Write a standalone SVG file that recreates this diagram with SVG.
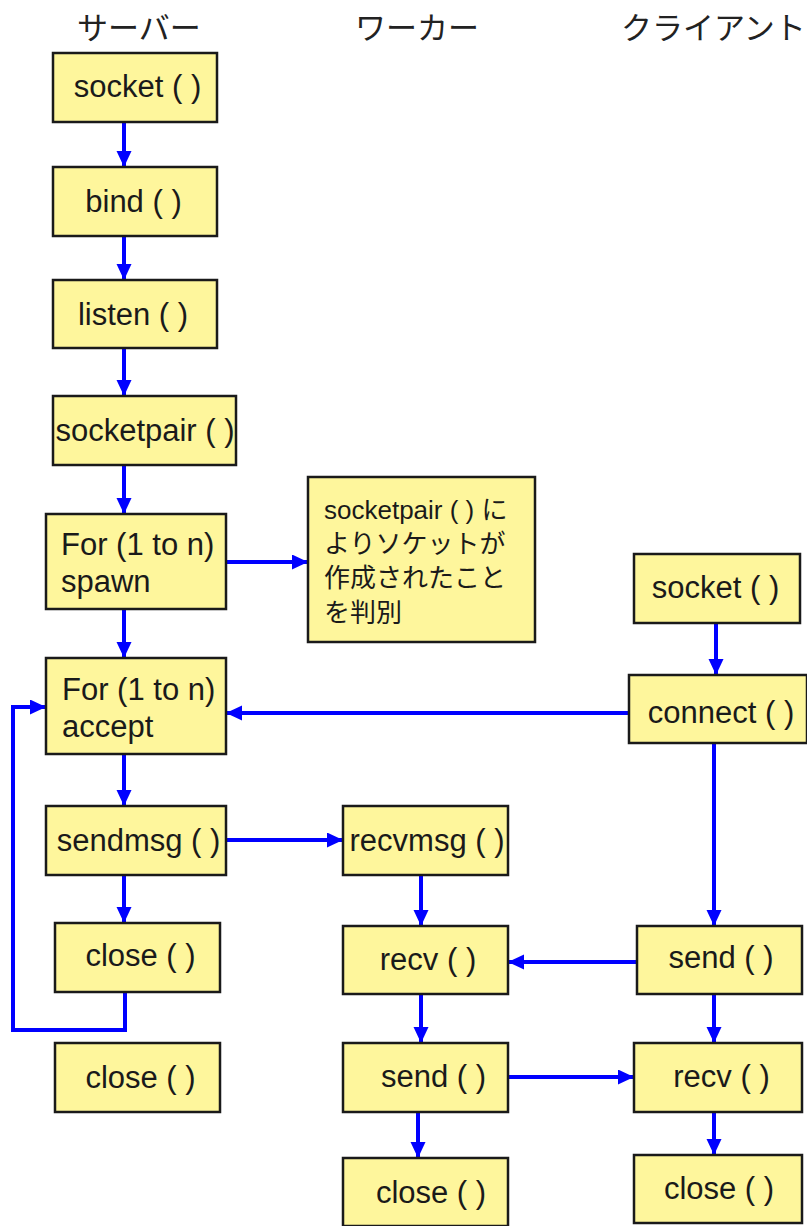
<svg xmlns="http://www.w3.org/2000/svg" width="807" height="1226" viewBox="0 0 807 1226">
<style>
.box{fill:#fef69c;stroke:#1a1a1a;stroke-width:2.5}
.t{font-family:"Liberation Sans",Arial,sans-serif;font-size:31px;fill:#1a1a1a;text-anchor:middle}
.tl{font-family:"Liberation Sans",Arial,sans-serif;font-size:31px;fill:#1a1a1a}
.note{font-family:"Liberation Sans","Noto Sans CJK JP",sans-serif;font-size:26px;fill:#1a1a1a}
.hd{font-family:"Noto Sans CJK JP",sans-serif;font-size:31px;fill:#222}
.c{fill:none;stroke:#0000ff;stroke-width:4}
</style>
<defs>
<marker id="ah" markerUnits="userSpaceOnUse" markerWidth="18" markerHeight="16" refX="16" refY="7.5" orient="auto">
<path d="M0,0 L16,7.5 L0,15 Z" fill="#0000ff"/>
</marker>
</defs>
<g id="headers">
<text class="hd" x="77" y="39">サーバー</text>
<text class="hd" x="355" y="39">ワーカー</text>
<text class="hd" x="621" y="39">クライアント</text>
</g>
<g id="connectors">
<line class="c" x1="124" y1="122" x2="124" y2="167" marker-end="url(#ah)"/>
<line class="c" x1="124" y1="236" x2="124" y2="280" marker-end="url(#ah)"/>
<line class="c" x1="124" y1="348" x2="124" y2="396" marker-end="url(#ah)"/>
<line class="c" x1="124" y1="465" x2="124" y2="514" marker-end="url(#ah)"/>
<line class="c" x1="124" y1="609" x2="124" y2="658" marker-end="url(#ah)"/>
<line class="c" x1="124" y1="754" x2="124" y2="806" marker-end="url(#ah)"/>
<line class="c" x1="124" y1="875" x2="124" y2="923" marker-end="url(#ah)"/>
<line class="c" x1="226" y1="562" x2="308" y2="562" marker-end="url(#ah)"/>
<line class="c" x1="629" y1="713" x2="226" y2="713" marker-end="url(#ah)"/>
<line class="c" x1="226" y1="840" x2="343" y2="840" marker-end="url(#ah)"/>
<path class="c" d="M125,992 V1030 H13 V707 H46" marker-end="url(#ah)"/>
<line class="c" x1="716" y1="623" x2="716" y2="675" marker-end="url(#ah)"/>
<line class="c" x1="714" y1="743" x2="714" y2="926" marker-end="url(#ah)"/>
<line class="c" x1="637" y1="962" x2="508" y2="962" marker-end="url(#ah)"/>
<line class="c" x1="421" y1="875" x2="421" y2="926" marker-end="url(#ah)"/>
<line class="c" x1="421" y1="994" x2="421" y2="1043" marker-end="url(#ah)"/>
<line class="c" x1="508" y1="1077" x2="634" y2="1077" marker-end="url(#ah)"/>
<line class="c" x1="418" y1="1112" x2="418" y2="1158" marker-end="url(#ah)"/>
<line class="c" x1="714" y1="994" x2="714" y2="1043" marker-end="url(#ah)"/>
<line class="c" x1="714" y1="1112" x2="714" y2="1155" marker-end="url(#ah)"/>
</g>
<g id="srv_socket"><rect class="box" x="53" y="53" width="164" height="69"/><text class="t" x="137.5" y="97">socket ( )</text></g>
<g id="srv_bind"><rect class="box" x="53" y="167" width="164" height="69"/><text class="t" x="133.5" y="212">bind ( )</text></g>
<g id="srv_listen"><rect class="box" x="53" y="280" width="164" height="68"/><text class="t" x="133" y="325">listen ( )</text></g>
<g id="srv_socketpair"><rect class="box" x="53" y="396" width="183" height="69"/><text class="t" x="145" y="441">socketpair ( )</text></g>
<g id="srv_spawn"><rect class="box" x="46" y="514" width="180" height="95"/><text class="tl" x="61" y="555">For (1 to n)</text><text class="tl" x="61" y="592">spawn</text></g>
<g id="note"><rect class="box" x="308" y="477" width="227" height="165"/>
<text class="note" x="324" y="519">socketpair ( ) に</text>
<text class="note" x="324" y="553">よりソケットが</text>
<text class="note" x="324" y="587">作成されたこと</text>
<text class="note" x="324" y="622">を判別</text></g>
<g id="srv_accept"><rect class="box" x="46" y="658" width="180" height="96"/><text class="tl" x="62" y="700">For (1 to n)</text><text class="tl" x="62" y="737">accept</text></g>
<g id="srv_sendmsg"><rect class="box" x="46" y="806" width="180" height="69"/><text class="t" x="138.5" y="851">sendmsg ( )</text></g>
<g id="srv_close1"><rect class="box" x="55" y="923" width="165" height="69"/><text class="t" x="140.5" y="966">close ( )</text></g>
<g id="srv_close2"><rect class="box" x="55" y="1043" width="165" height="69"/><text class="t" x="140.5" y="1088">close ( )</text></g>
<g id="wrk_recvmsg"><rect class="box" x="343" y="806" width="165" height="69"/><text class="t" x="427" y="851">recvmsg ( )</text></g>
<g id="wrk_recv"><rect class="box" x="343" y="926" width="165" height="68"/><text class="t" x="428" y="970">recv ( )</text></g>
<g id="wrk_send"><rect class="box" x="343" y="1043" width="165" height="69"/><text class="t" x="433.5" y="1087">send ( )</text></g>
<g id="wrk_close"><rect class="box" x="343" y="1158" width="165" height="68"/><text class="t" x="431" y="1203">close ( )</text></g>
<g id="cli_socket"><rect class="box" x="634" y="554" width="166" height="69"/><text class="t" x="715.5" y="598">socket ( )</text></g>
<g id="cli_connect"><rect class="box" x="629" y="675" width="178" height="68"/><text class="t" x="721" y="723">connect ( )</text></g>
<g id="cli_send"><rect class="box" x="637" y="926" width="165" height="68"/><text class="t" x="721" y="968">send ( )</text></g>
<g id="cli_recv"><rect class="box" x="634" y="1043" width="168" height="69"/><text class="t" x="721.5" y="1087">recv ( )</text></g>
<g id="cli_close"><rect class="box" x="634" y="1155" width="168" height="68"/><text class="t" x="719" y="1199">close ( )</text></g>
</svg>
